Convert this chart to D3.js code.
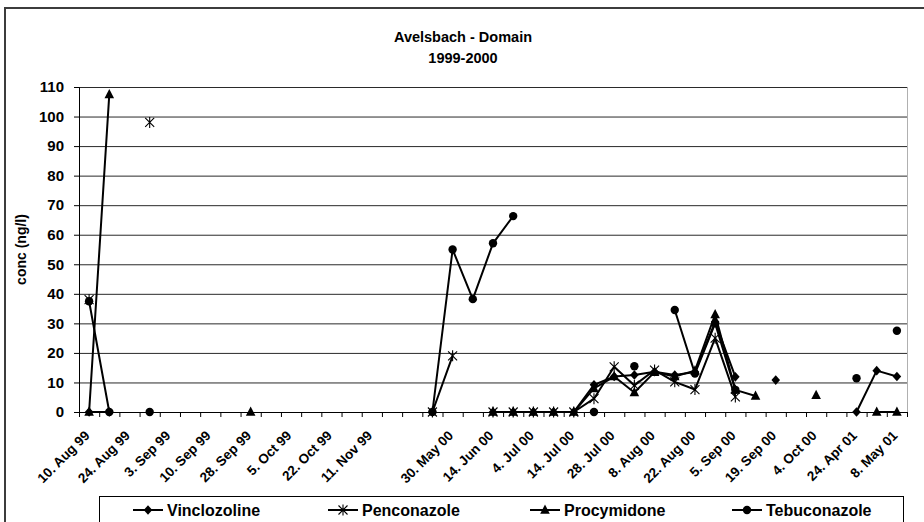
<!DOCTYPE html>
<html>
<head>
<meta charset="utf-8">
<script src="https://cdn.jsdelivr.net/npm/d3@7"></script>
<style>
body { margin: 0; background: #fff; }
svg { display: block; font-family: "Liberation Sans", Arial, sans-serif; }
</style>
</head>
<body>
<svg id="chart" width="924" height="522"></svg>
<script>
//// data, one entry per sampling date (41 categories)
var dateLabels = ["10. Aug 99","","24. Aug 99","","3. Sep 99","","10. Sep 99","","28. Sep 99","",
  "5. Oct 99","","22. Oct 99","","11. Nov 99","","","","30. May 00","",
  "14. Jun 00","","4. Jul 00","","14. Jul 00","","28. Jul 00","","8. Aug 00","",
  "22. Aug 00","","5. Sep 00","","19. Sep 00","","4. Oct 00","","24. Apr 01","","8. May 01"];

var vinclozoline = [0,0,null,null,null,null,null,null,null,null,null,null,null,null,null,null,null,
  0,null,null,0,0,0,0,0,9.2,12,12.5,13.6,12.5,13.5,30.5,11.9,null,10.8,null,null,null,0,14,12];
var penconazole = [38,null,null,98,null,null,null,null,null,null,null,null,null,null,null,null,null,
  0,19,null,0,0,0,0,0,4.5,15.3,9,14.2,10.2,7.6,25,5.1,null,null,null,null,null,null,null,null];
var procymidone = [0,107.5,null,null,null,null,null,null,0,null,null,null,null,null,null,null,null,
  null,null,null,0,0,0,0,0,8,12,6.6,13.5,12,14,33,7.5,5.4,null,null,5.7,null,null,0,0];
var tebuconazole = [37.5,0,null,0,null,null,null,null,null,null,null,null,null,null,null,null,null,
  0,55,38.2,57.1,66.3,null,null,null,0,null,15.5,null,34.5,13,30,7.5,null,null,null,null,null,11.4,null,27.5];

var seriesNames = ["Vinclozoline", "Penconazole", "Procymidone", "Tebuconazole"];
var seriesMarkers = ["diamond", "star", "triangle", "circle"];
var seriesValues = [vinclozoline, penconazole, procymidone, tebuconazole];

var yTicks = [0,10,20,30,40,50,60,70,80,90,100,110];

var svg = d3.select("#chart");
var pLeft = 79, pRight = 907, pTop = 87, pBottom = 412;

var x = d3.scaleBand().domain(d3.range(dateLabels.length)).range([pLeft, pRight]).paddingInner(0);
var xEdge = d3.scaleLinear().domain([0, dateLabels.length]).range([pLeft, pRight]);
var y = d3.scaleLinear().domain([0, 110]).range([pBottom, pTop]);
var cx = function(i) { return x(i) + x.bandwidth() / 2; };

// outer chart frame
svg.append("rect").attr("x", 5).attr("y", 8).attr("width", 940).attr("height", 540)
  .attr("fill", "none").attr("stroke", "#3c3c3c").attr("stroke-width", 2);

// title
svg.append("text").attr("x", 463).attr("y", 42).attr("text-anchor", "middle")
  .attr("font-size", 14.5).attr("font-weight", "bold").text("Avelsbach - Domain");
svg.append("text").attr("x", 463).attr("y", 63).attr("text-anchor", "middle")
  .attr("font-size", 14.5).attr("font-weight", "bold").text("1999-2000");

// gridlines
svg.append("g").attr("transform", "translate(" + pLeft + ",0)")
  .call(d3.axisLeft(y).tickValues(yTicks).tickSize(-(pRight - pLeft)).tickFormat(""))
  .call(g => g.select(".domain").remove())
  .call(g => g.selectAll("line").attr("stroke", "#2a2a2a"));

// plot area right edge
svg.append("line").attr("x1", pRight + 0.5).attr("x2", pRight + 0.5).attr("y1", pTop).attr("y2", pBottom)
  .attr("stroke", "#b0b0b0");

// y axis
var yAxis = svg.append("g").attr("transform", "translate(" + pLeft + ",0)")
  .call(d3.axisLeft(y).tickValues(yTicks).tickSize(5).tickPadding(10));
yAxis.selectAll("text").attr("font-size", 15).attr("font-weight", "bold")
  .attr("font-family", "Liberation Sans, Arial, sans-serif").attr("fill", "#000");
yAxis.selectAll("line, path").attr("stroke", "#000");

svg.append("text").attr("transform", "translate(26," + ((pTop + pBottom) / 2) + ") rotate(-90)")
  .attr("text-anchor", "middle").attr("font-size", 14).attr("font-weight", "bold")
  .text("conc (ng/l)");

// x axis (ticks between categories)
var xAxis = svg.append("g").attr("transform", "translate(0," + pBottom + ")")
  .call(d3.axisBottom(xEdge).tickValues(d3.range(dateLabels.length + 1)).tickSize(5).tickFormat(""));
xAxis.selectAll("line, path").attr("stroke", "#000");

svg.append("g").selectAll("text")
  .data(dateLabels.map((d, i) => ({label: d, i: i})).filter(d => d.label !== ""))
  .enter().append("text")
  .attr("transform", d => "translate(" + (cx(d.i) - 2) + "," + (pBottom + 21) + ") rotate(-45)")
  .attr("text-anchor", "end").attr("dy", "0.35em")
  .attr("font-size", 13.5).attr("font-weight", "bold")
  .text(d => d.label);

// markers
function drawMarker(g, type) {
  if (type === "circle") {
    g.append("circle").attr("r", 4.2).attr("fill", "#000");
  } else if (type === "diamond") {
    g.append("path").attr("d", "M0,-4.8L4.3,0L0,4.8L-4.3,0Z").attr("fill", "#000");
  } else if (type === "triangle") {
    g.append("path").attr("d", "M0,-5.5L4.8,3.8L-4.8,3.8Z").attr("fill", "#000");
  } else if (type === "star") {
    g.append("path").attr("d", "M-4.5,-4.5L4.5,4.5M-4.5,4.5L4.5,-4.5M0,-5.5L0,5.5")
      .attr("stroke", "#000").attr("stroke-width", 1.1).attr("fill", "none");
  }
}

var line = d3.line()
  .defined(d => d != null)
  .x((d, i) => cx(i))
  .y(d => y(d));

var plot = svg.append("g");
seriesValues.forEach(function(vals, s) {
  plot.append("path").attr("d", line(vals))
    .attr("fill", "none").attr("stroke", "#000").attr("stroke-width", 2)
    .attr("stroke-linejoin", "round");
  vals.forEach(function(v, i) {
    if (v == null) return;
    var g = plot.append("g").attr("transform", "translate(" + cx(i) + "," + y(v) + ")");
    drawMarker(g, seriesMarkers[s]);
  });
});

// legend
var legendX = [133, 328, 530, 732];
svg.append("rect").attr("x", 99.5).attr("y", 496.5).attr("width", 804).attr("height", 40)
  .attr("fill", "#fff").attr("stroke", "#000");
seriesNames.forEach(function(name, s) {
  var lx = legendX[s], ly = 510;
  var g = svg.append("g");
  g.append("line").attr("x1", lx).attr("x2", lx + 30).attr("y1", ly).attr("y2", ly)
    .attr("stroke", "#000").attr("stroke-width", 2);
  drawMarker(g.append("g").attr("transform", "translate(" + (lx + 15) + "," + ly + ")"), seriesMarkers[s]);
  g.append("text").attr("x", lx + 34).attr("y", ly).attr("dy", "0.36em")
    .attr("font-size", 16).attr("font-weight", "bold").text(name);
});
</script>
</body>
</html>
